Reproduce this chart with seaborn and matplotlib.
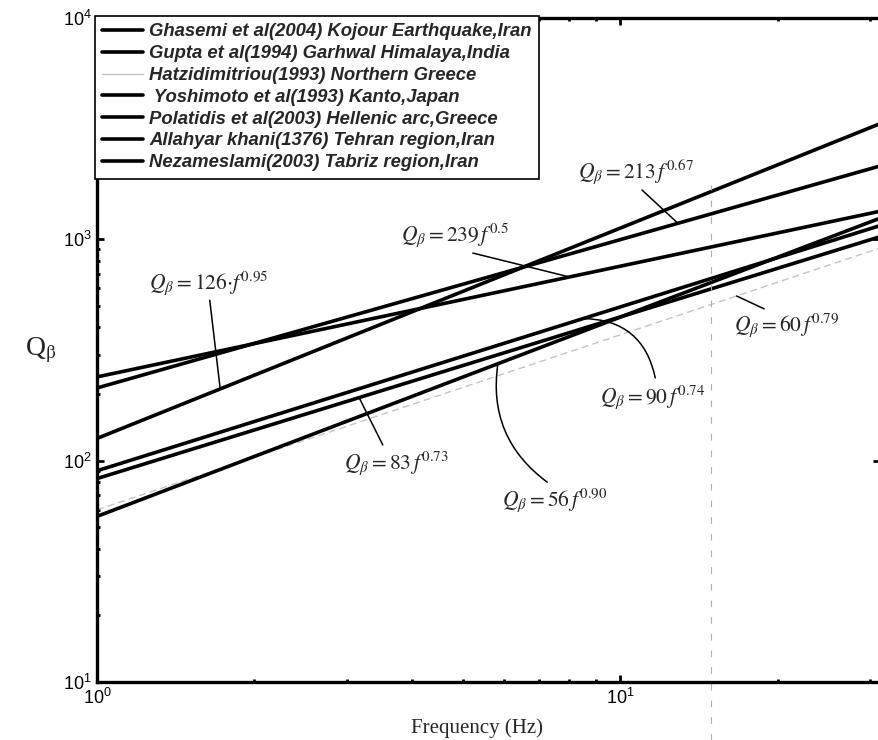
import numpy as np
import pandas as pd
import seaborn as sns
import matplotlib
matplotlib.use("Agg")
import matplotlib.pyplot as plt
from matplotlib.ticker import NullFormatter, LogLocator

# studies shown in the legend, with their Q = Q0 * f^n relations
studies = [
    "Ghasemi et al(2004) Kojour Earthquake,Iran",
    "Gupta et al(1994) Garhwal Himalaya,India",
    "Hatzidimitriou(1993) Northern Greece",
    " Yoshimoto et al(1993) Kanto,Japan",
    "Polatidis et al(2003) Hellenic arc,Greece",
    "Allahyar khani(1376) Tehran region,Iran",
    "Nezameslami(2003) Tabriz region,Iran",
]
q0 = [90, 126, 60, 83, 56, 239, 213]
n_exp = [0.74, 0.95, 0.79, 0.73, 0.90, 0.5, 0.67]
line_colors = ["black", "black", "#c4c4c4", "black", "black", "black", "black"]
freqs = [1.0, 2.0, 5.0, 10.0, 20.0, 31.4]

# equation labels and which study each one points to
eq_labels = [r"$Q_\beta = 213\,f^{0.67}$", r"$Q_\beta = 239\,f^{0.5}$",
             r"$Q_\beta = 126{\cdot}f^{0.95}$", r"$Q_\beta = 60\,f^{0.79}$",
             r"$Q_\beta = 90\,f^{0.74}$", r"$Q_\beta = 83\,f^{0.73}$",
             r"$Q_\beta = 56\,f^{0.90}$"]
eq_study = [6, 5, 1, 2, 0, 3, 4]
eq_freq = [12.9, 8.0, 1.72, 16.7, 8.5, 3.17, 5.84]          # where the leader touches the line
eq_text_pos = [(0.688, 0.768), (0.457, 0.673), (0.142, 0.601), (0.881, 0.538),
               (0.710, 0.429), (0.383, 0.330), (0.584, 0.274)]
eq_lead_pos = [(0.696, 0.741), (0.480, 0.646), (0.144, 0.575), (0.852, 0.562),
               (0.713, 0.458), (0.365, 0.357), (0.575, 0.301)]
eq_rad = [0, 0, 0, 0, 0.4, 0, -0.3]

rows = []
for name, a, b in zip(studies, q0, n_exp):
    for f in freqs:
        rows.append({"study": name, "freq": f, "Q": a * f ** b})
df = pd.DataFrame(rows)

sns.set_style("ticks")
plt.rcParams["font.family"] = ["Liberation Sans", "DejaVu Sans"]
plt.rcParams["mathtext.fontset"] = "stix"

fig = plt.figure(figsize=(8.79, 7.40), dpi=100)
ax = fig.add_axes([97 / 879, 1 - 682 / 740, 783 / 879, 664 / 740])

sns.lineplot(data=df, x="freq", y="Q", hue="study", hue_order=studies,
             palette=dict(zip(studies, line_colors)), lw=2.6,
             estimator=None, sort=True, ax=ax)
ax.lines[2].set_linewidth(1.0)
ax.lines[2].set_linestyle((0, (5, 3)))

ax.set_xscale("log")
ax.set_yscale("log")
ax.set_xlim(1, 31.4)
ax.set_ylim(10, 1e4)

# faint vertical guide line from the scan
ax.axvline(14.9, ymin=-0.087, ymax=0.748, clip_on=False, color="#b0b0b0",
           lw=0.8, ls=(0, (6, 9)))

for txt, si, fa, tpos, lpos, rad in zip(eq_labels, eq_study, eq_freq,
                                        eq_text_pos, eq_lead_pos, eq_rad):
    qa = q0[si] * fa ** n_exp[si]
    ax.text(tpos[0], tpos[1], txt, transform=ax.transAxes, ha="center",
            va="center", fontsize=15.5)
    ax.annotate("", xy=(fa, qa), xycoords="data", xytext=lpos,
                textcoords="axes fraction",
                arrowprops=dict(arrowstyle="-", lw=1.1, color="black",
                                shrinkA=0, shrinkB=0,
                                connectionstyle=f"arc3,rad={rad}"))

handles, labels = ax.get_legend_handles_labels()
leg = ax.legend(handles, labels, loc="upper left", bbox_to_anchor=(-0.003, 1.003),
                borderaxespad=0, frameon=True, fancybox=False, framealpha=1,
                edgecolor="black", handlelength=2.2, handletextpad=0.35,
                labelspacing=0.26, borderpad=0.4,
                prop=dict(family="Liberation Sans", weight="bold",
                          style="italic", size=13.3))
leg.get_frame().set_linewidth(1.2)
for h in leg.get_lines():
    h.set_linewidth(2.6)
leg.get_lines()[2].set_linewidth(1.0)

ax.xaxis.set_minor_locator(LogLocator(base=10, subs=np.arange(2, 10)))
ax.yaxis.set_minor_locator(LogLocator(base=10, subs=np.arange(2, 10)))
ax.xaxis.set_minor_formatter(NullFormatter())
ax.yaxis.set_minor_formatter(NullFormatter())
ax.tick_params(which="both", direction="in", top=True, right=True,
               colors="black", labelsize=13, width=2)
ax.tick_params(which="major", length=5, pad=4)
ax.tick_params(which="minor", length=2.5, right=False)
for s in ax.spines.values():
    s.set_linewidth(2.4)
    s.set_color("black")
ax.spines["right"].set_visible(False)

ax.set_xlabel("Frequency (Hz)", family="Liberation Serif", fontsize=15, labelpad=6)
ax.set_ylabel(r"Q$_{\mathrm{\beta}}$", family="Liberation Serif", fontsize=20,
              rotation=0, va="center", ha="center")
ax.yaxis.set_label_coords(-0.072, 0.5)
ax.xaxis.set_label_coords(0.485, -0.055)

fig.savefig("out.png", dpi=100)
